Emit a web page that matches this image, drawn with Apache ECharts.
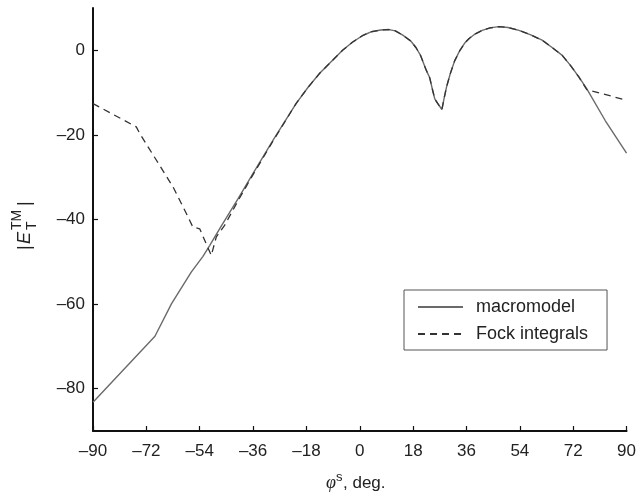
<!DOCTYPE html>
<html>
<head>
<meta charset="utf-8">
<script src="https://cdn.jsdelivr.net/npm/echarts@6/dist/echarts.min.js"></script>
<style>html,body{margin:0;padding:0;background:#fff}#c{width:639px;height:499px}</style>
</head>
<body>
<div id="c"></div>
<script>
const xTicks = [-90, -72, -54, -36, -18, 0, 18, 36, 54, 72, 90];
const yTicks = [-80, -60, -40, -20, 0];
const seriesNames = ['macromodel', 'Fock integrals'];
const macromodel = [[-90,-83.2],[-69.1,-67.6],[-63.5,-59.9],[-56.8,-52.4],[-52.9,-48.7],[-50.6,-46.1],[-47.3,-42.2],[-41.1,-35.1],[-36.1,-29.2],[-29.3,-21.3],[-21.5,-12.6],[-17.5,-8.8],[-13.6,-5.5],[-9.5,-2.6],[-5.8,0],[-2.5,1.9],[1,3.5],[4,4.4],[7,4.8],[9.9,4.9],[12,4.6],[14.5,3.6],[17.2,2.2],[19,0.6],[20.5,-1.2],[22.3,-4.5],[23.6,-6.5],[24.6,-9.5],[25.3,-11.5],[26.5,-12.8],[27.7,-14],[28.5,-11.2],[29.3,-8.6],[30.5,-5.6],[32,-2.5],[33.8,0],[35.5,1.8],[36.9,2.8],[39,3.9],[41.3,4.7],[44,5.3],[46.9,5.6],[50,5.4],[53.7,4.7],[57.5,3.7],[61.5,2.4],[65,0.6],[68.3,-1.2],[71,-3.5],[73.9,-6.3],[76.6,-9.1],[82.8,-16.6],[90,-24.3]];
const fock = [[-90,-12.6],[-75.4,-18.1],[-74.2,-19.7],[-68.6,-26],[-63,-32.3],[-58.5,-38.6],[-56.3,-41.8],[-54,-42.2],[-50.1,-48.5],[-48.4,-44.1],[-45.6,-41.4],[-41.1,-35.6],[-36.1,-29.5],[-29.3,-21.5],[-21.5,-12.6],[-17.5,-8.8],[-13.6,-5.5],[-9.5,-2.6],[-5.8,0],[-2.5,1.9],[1,3.5],[4,4.4],[7,4.8],[9.9,4.9],[12,4.6],[14.5,3.6],[17.2,2.2],[19,0.6],[20.5,-1.2],[22.3,-4.5],[23.6,-6.5],[24.6,-9.5],[25.3,-11.5],[26.5,-12.8],[27.7,-14],[28.5,-11.2],[29.3,-8.6],[30.5,-5.6],[32,-2.5],[33.8,0],[35.5,1.8],[36.9,2.8],[39,3.9],[41.3,4.7],[44,5.3],[46.9,5.6],[50,5.4],[53.7,4.7],[57.5,3.7],[61.5,2.4],[65,0.6],[68.3,-1.2],[71,-3.5],[73.9,-6.3],[76.6,-9.3],[90,-11.8]];

const FONT = '"Liberation Sans", Arial, Helvetica, sans-serif';
const fmt = v => String(v).replace('-', '\u2013');

const chart = echarts.init(document.getElementById('c'), null, {renderer: 'canvas'});
chart.setOption({
  animation: false,
  backgroundColor: '#fff',
  grid: {left: 93, right: 11, top: 8, bottom: 68},
  xAxis: {
    type: 'value', min: -90, max: 90, interval: 18,
    splitLine: {show: false},
    axisLine: {onZero: false, lineStyle: {color: '#111', width: 2}},
    axisTick: {inside: true, length: 5, lineStyle: {color: '#111', width: 1.2}},
    axisLabel: {formatter: fmt, fontFamily: FONT, fontSize: 17, color: '#222', margin: 12}
  },
  yAxis: {
    type: 'value', min: -90, max: 10,
    splitLine: {show: false},
    axisLine: {show: true, onZero: false, lineStyle: {color: '#111', width: 2}},
    axisTick: {show: true, inside: true, length: 5, customValues: yTicks, lineStyle: {color: '#111', width: 1.2}},
    axisLabel: {customValues: yTicks, formatter: fmt, fontFamily: FONT, fontSize: 17, color: '#222', margin: 8}
  },
  legend: {
    orient: 'vertical', left: 404, top: 290,
    padding: [7, 19, 6, 13], itemGap: 7,
    itemWidth: 45, itemHeight: 14,
    borderColor: '#555', borderWidth: 1,
    itemStyle: {opacity: 0},
    textStyle: {fontFamily: FONT, fontSize: 18, color: '#222', lineHeight: 20, padding: [0, 0, 0, 8]},
    data: seriesNames
  },
  series: [
    {name: seriesNames[0], type: 'line', data: macromodel, symbol: 'none', showSymbol: false,
     lineStyle: {color: '#6a6a6a', width: 1.4}, itemStyle: {color: '#6a6a6a'}},
    {name: seriesNames[1], type: 'line', data: fock, symbol: 'none', showSymbol: false,
     lineStyle: {color: '#333', width: 1.3, type: [7, 5]}, itemStyle: {color: '#333'}}
  ],
  graphic: [
    {type: 'group', x: 25, y: 250, rotation: Math.PI / 2, children: [
      {type: 'text', x: 0, y: 0, style: {text: '|', fontFamily: FONT, fontSize: 18, fill: '#222', verticalAlign: 'middle'}},
      {type: 'text', x: 6, y: 0, style: {text: 'E', fontFamily: FONT, fontStyle: 'italic', fontSize: 18, fill: '#222', verticalAlign: 'middle'}},
      {type: 'text', x: 20, y: 7, style: {text: 'T', fontFamily: FONT, fontSize: 14, fill: '#222', verticalAlign: 'middle'}},
      {type: 'text', x: 20, y: -8, style: {text: 'TM', fontFamily: FONT, fontSize: 14, fill: '#222', verticalAlign: 'middle'}},
      {type: 'text', x: 44, y: 0, style: {text: '|', fontFamily: FONT, fontSize: 18, fill: '#222', verticalAlign: 'middle'}}
    ]},
    {type: 'group', x: 326, y: 483, children: [
      {type: 'text', x: 0, y: 0, style: {text: '\u03c6', fontFamily: '"Liberation Serif", "DejaVu Serif", serif', fontStyle: 'italic', fontSize: 18, fill: '#222', verticalAlign: 'middle'}},
      {type: 'text', x: 10, y: -6, style: {text: 's', fontFamily: FONT, fontSize: 13, fill: '#222', verticalAlign: 'middle'}},
      {type: 'text', x: 17, y: 0, style: {text: ', deg.', fontFamily: FONT, fontSize: 17, fill: '#222', verticalAlign: 'middle'}}
    ]}
  ]
});
</script>
</body>
</html>
